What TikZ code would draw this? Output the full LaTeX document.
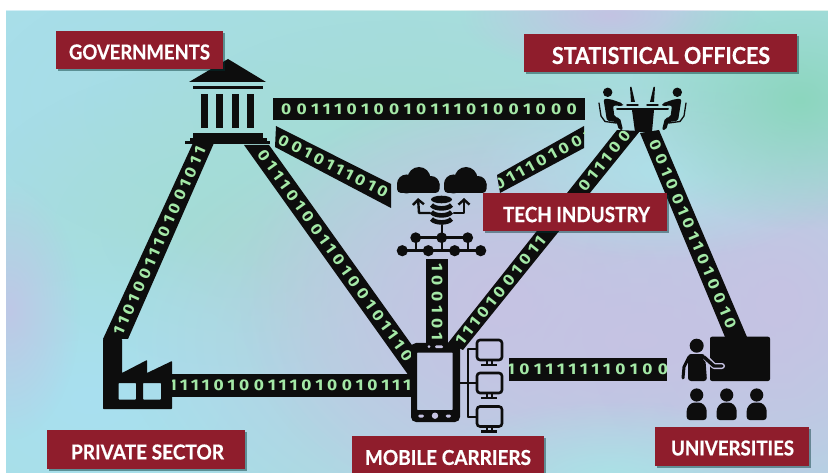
\documentclass[tikz,border=0pt]{standalone}
\usepackage{fontspec}
\usepackage{graphicx}
\usetikzlibrary{calc,fadings,shadows,arrows.meta}
\setmainfont{Lato}
\newfontfamily\labfont[BoldFeatures={FakeBold=0.6}]{Lato}
\newfontfamily\bitfont[FakeStretch=1.12]{Fira Sans}
\definecolor{maroon}{HTML}{8F1D2C}
\definecolor{ink}{HTML}{0D0D0D}
\definecolor{bitgreen}{HTML}{A4E8A6}
\definecolor{lav}{HTML}{C6C3E3}
\definecolor{bgbase}{HTML}{A9DEE3}
\newlength\bz \newlength\bo
\def\bitrun#1{\ifx#1\relax\else\if#10\makebox[\bz]{0}\else\makebox[\bo]{1}\fi\expandafter\bitrun\fi}
\tikzfading[name=blob, inner color=transparent!0, outer color=transparent!100]
\tikzset{
  bits/.style={text=bitgreen,font=\bitfont\bfseries\fontsize{15.5}{15.5}\selectfont,inner sep=0pt},
  labfill/.style={fill=maroon,drop shadow={shadow xshift=2pt,shadow yshift=-2pt,opacity=.45,fill=black!60!teal}},
  labtext/.style={text=white,font=\labfont\bfseries,inner sep=0pt},
  icon/.style={fill=ink,draw=none},
  iconline/.style={draw=ink,line cap=round,line join=round}
}
% name, four corners, pitch factor, position of the text centre, bits
\newcommand\tapebits[8]{%
  \begin{scope}
    \clip #2--#3--#4--#5--cycle;
    \coordinate (#1a) at ($#2!.5!#3$);
    \coordinate (#1b) at ($#4!.5!#5$);
    \path (#1a) -- (#1b) node[bits,sloped,pos=#7] (#1) {\bz=#6\dimexpr15.5pt\relax\bo=#6\dimexpr11.5pt\relax\bitrun#8\relax};
  \end{scope}}
\newcommand\tape[8]{%
  \fill[ink] #2--#3--#4--#5--cycle;
  \tapebits{#1}{#2}{#3}{#4}{#5}{#6}{#7}{#8}}
% name, corner, corner, text centre, text width, text height, text
\newcommand\lab[7]{%
  \fill[labfill] #2 rectangle #3;
  \node[labtext] (#1) at #4 {\resizebox{#5pt}{#6pt}{#7}};}
\newcommand\blob[4]{\definecolor{blobcol}{HTML}{#1}\fill[blobcol,path fading=blob] #2 ellipse (#3 and #4);}
\begin{document}
\begin{tikzpicture}[x=1pt,y=-1pt]
\useasboundingbox (0,0) rectangle (828,473);
\fill[white] (0,0) rectangle (828,473);
\begin{scope}
  \clip (6,11) rectangle (828,473);
  \fill[bgbase] (6,11) rectangle (828,473);
  \blob{A8DFEE}{(120,90)}{330pt}{200pt}
  \blob{A4DCD6}{(400,110)}{420pt}{180pt}
  \blob{A4DCD4}{(240,230)}{280pt}{170pt}
  \blob{A8E0F0}{(90,400)}{260pt}{180pt}
  \blob{BEC8E6}{(10,310)}{70pt}{130pt}
  \blob{C6C3E3}{(640,340)}{520pt}{260pt}
  \blob{C6C3E3}{(500,300)}{260pt}{220pt}
  \blob{C6C3E3}{(780,300)}{200pt}{220pt}
  \blob{AEE0E8}{(660,170)}{190pt}{90pt}
  \blob{C3C3E3}{(610,15)}{150pt}{60pt}
  \blob{8CD6BE}{(800,100)}{170pt}{130pt}
  \blob{AAE2E6}{(610,480)}{190pt}{80pt}
\end{scope}
% ---------- tapes
\tape{tGF}{(103,339)}{(128,339)}{(214,143)}{(193,143)}{.93}{.5}{11010011101001011}
\tape{tGM}{(244,145)}{(269,145)}{(414,348)}{(414,383)}{.98}{.5}{01110100110100101110}
\tape{tGS}{(273,98)}{(273,120)}{(585,120)}{(585,98)}{1}{.5}{0011101001011101001000}
\tape{tGT}{(276,126)}{(275,147)}{(391,208)}{(391,184)}{.93}{.5}{0010111010}
\tape{tTS}{(497,175)}{(500,193)}{(584,148)}{(584,126)}{.95}{.52}{011101001}
\tape{tSM}{(448,343)}{(463,350)}{(640,131)}{(617,130)}{.97}{.26}{11101001011}
\tapebits{tSMup}{(448,343)}{(463,350)}{(640,131)}{(617,130)}{.97}{.86}{011100}
\tape{tSU}{(640,133)}{(659,130)}{(747,337)}{(725,337)}{1}{.5}{001001011010010}
\tape{tTM}{(426,259)}{(448,259)}{(448,345)}{(426,345)}{1}{.5}{100101}
\tape{tFM}{(172,374)}{(172,397)}{(413,397)}{(413,374)}{.95}{.49}{11110100111010010111}
\tape{tMU}{(509,358)}{(509,380.5)}{(667,380.5)}{(667,358)}{1}{.5}{1011111110100}
% ---------- governments: columned building
\fill[icon] (189,82)--(228,59)--(266,82)--cycle;
\fill[icon] (193,86) rectangle (263,89.5);
\foreach \cx in {201,216,232,247.3}{\fill[icon] (\cx,94) rectangle ++(7,34);}
\fill[icon] (193,133) rectangle (263,139);
\fill[icon] (190,138) rectangle (267,142);
\fill[icon] (185,141) rectangle (270,144);
% ---------- private sector: factory
\fill[icon,even odd rule,rounded corners=.6pt]
  (103,339)--(122,339)--(122,373)--(147,360)--(147,373)--(172,361)--(172,409)--(103,409)--cycle
  (118.5,383) rectangle (136,399.5)
  (143,383) rectangle (161,399.5);
% ---------- tech industry: clouds, data store, network
\foreach \dx in {0,47}{
  \begin{scope}[xshift=\dx pt]
    \fill[icon] (406.5,184) circle (9.5pt);
    \fill[icon] (419,178.5) circle (11.5pt);
    \fill[icon] (431,184.5) circle (8.5pt);
    \fill[icon,rounded corners=4pt] (397,180) rectangle (439.5,193);
  \end{scope}}
\fill[icon] (441.5,199.5) ellipse (10.5pt and 3.8pt);
\foreach \ly in {205,212,219}{
  \draw[ink,line width=4.6pt] (431.5,\ly) .. controls (435,\ly+4.5) and (448,\ly+4.5) .. (451.5,\ly);}
\draw[iconline,line width=2.4pt,-{Straight Barb[length=5pt,width=11pt]}] (430,213)--(419,213)--(418,198);
\draw[iconline,line width=2.4pt,-{Straight Barb[length=5pt,width=11pt]}] (454,213)--(464,213)--(464,198);
\draw[iconline,line width=2.4pt] (441.7,225)--(441.7,250.7);
\draw[iconline,line width=2.4pt] (415.7,237.7)--(467.7,237.7);
\draw[iconline,line width=2.4pt] (402.3,250.7)--(480.7,250.7);
\draw[iconline,line width=2.4pt] (415.7,237.7)--(415.7,250.7);
\draw[iconline,line width=2.4pt] (467.7,237.7)--(467.7,250.7);
\foreach \nx in {415.7,441.7,467.7}{\fill[icon] (\nx,237.7) circle (5.4pt);}
\foreach \nx in {402.3,428.3,454.7,480.7}{\fill[icon] (\nx,250.7) circle (5.6pt);}
% ---------- mobile carriers: phone and monitors
\fill[icon,even odd rule] [rounded corners=5pt] (411,343) rectangle (460,422)
  [rounded corners=.5pt] (417,352.7) rectangle (452.7,410);
\fill[lav] (435,415.7) circle (3.2pt);
\fill[lav,rounded corners=1.5pt] (418,414.5) rectangle (424,417.5);
\fill[lav,rounded corners=1.5pt] (445.5,414.5) rectangle (451,417.5);
\fill[lav] (429,346.7) circle (1.5pt);
\fill[lav,rounded corners=1.2pt] (435,345.4) rectangle (443,348.2);
\draw[iconline,line width=2.2pt] (468.3,349.3)--(468.3,416.7);
\draw[iconline,line width=2.2pt] (460,382.7)--(476,382.7);
\draw[iconline,line width=2.2pt] (468.3,349.3)--(476,349.3);
\draw[iconline,line width=2.2pt] (468.3,416.7)--(476,416.7);
\foreach \my in {340,373,406.5}{
  \draw[ink,line width=2.6pt,rounded corners=3pt] (477,\my) rectangle (502,\my+20);
  \draw[ink,line width=1.8pt] (487,\my+21)--(487,\my+25) (492,\my+21)--(492,\my+25);
  \draw[ink,line width=2.2pt] (481,\my+25)--(497,\my+25);}
% ---------- statistical offices: meeting at a table
\fill[icon] (632,110)--(654,110)--(652,132)--(635,132)--cycle;
\draw[iconline,line width=2pt] (617,109)--(668,109);
\foreach \sx/\sgn in {0/1,1285/-1}{
  \begin{scope}[xshift=\sx pt,x=\sgn pt]
    \fill[icon] (607.7,92.3) circle (4.7pt);
    \fill[icon,rounded corners=2pt] (603.5,99)--(610,99)--(623,103.5)--(623,106)--(613,105.5)--(614.5,117)--(620,118)--(623,130)--(619,130)--(616.5,122)--(607,121)--cycle;
    \draw[iconline,line width=1.3pt] (599,103)--(601,116)--(605,121.5)--(616,123);
    \fill[icon] (630,87)--(631.5,87)--(635,102)--(631,102)--cycle;
    \draw[iconline,line width=1.4pt] (627,105)--(638,105);
  \end{scope}}
% ---------- universities: presenter, board, students
\fill[icon,rounded corners=2pt] (710,336.7) rectangle (770,381);
\fill[icon] (696.7,345.7) circle (7pt);
\fill[icon,rounded corners=3pt] (688,354)--(705,354)--(707,381)--(688,381)--cycle;
\draw[ink,line width=3pt,line cap=round,line join=round] (689,357)--(684,367)--(683,378);
\draw[lav,line width=6pt,line cap=round,line join=round] (706,358)--(714,366)--(722,366);
\draw[ink,line width=3.4pt,line cap=round,line join=round] (704,357)--(714,366)--(722,366);
\foreach \ux in {696.7,726.7,756.7}{
  \fill[icon] (\ux,395) circle (6.6pt);
  \fill[icon,rounded corners=3pt] (\ux-10,420)--(\ux-10,408)--(\ux-5,402.5)--(\ux+5,402.5)--(\ux+10,408)--(\ux+10,420)--cycle;}
% ---------- labels
\lab{governments}{(55.5,31)}{(222.5,69)}{(139.5,52)}{141}{15}{GOVERNMENTS}
\lab{statistical}{(524,34)}{(797,72)}{(661,55.5)}{218}{17}{STATISTICAL OFFICES}
\lab{tech}{(483,193)}{(667,231)}{(576.5,214.5)}{147}{15.5}{TECH INDUSTRY}
\lab{private}{(47,430)}{(245,468.5)}{(147.5,452)}{153}{15}{PRIVATE SECTOR}
\lab{mobile}{(352,436)}{(544,476)}{(448,457.5)}{166}{15}{MOBILE CARRIERS}
\lab{universities}{(655,427)}{(809,465.5)}{(732.5,448)}{123}{15}{UNIVERSITIES}
\end{tikzpicture}
\end{document}
